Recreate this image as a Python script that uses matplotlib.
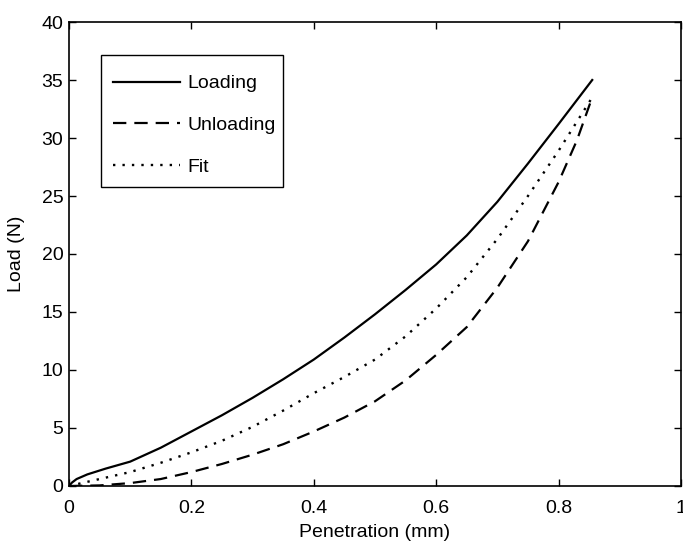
import matplotlib
matplotlib.use("Agg")
import matplotlib.pyplot as plt
from matplotlib.patches import Rectangle

# Data
load_x = [0, 0.005, 0.0125, 0.03, 0.06, 0.1, 0.15, 0.2, 0.25, 0.3, 0.35, 0.4,
          0.45, 0.5, 0.55, 0.6, 0.65, 0.7, 0.75, 0.8, 0.855]
load_y = [0, 0.3, 0.6, 1.0, 1.5, 2.1, 3.3, 4.7, 6.1, 7.6, 9.2, 10.9,
          12.8, 14.8, 16.9, 19.1, 21.6, 24.5, 27.8, 31.2, 35.0]

unload_x = [0, 0.05, 0.1, 0.15, 0.2, 0.25, 0.3, 0.35, 0.4, 0.45, 0.5, 0.55,
            0.6, 0.65, 0.7, 0.75, 0.8, 0.83, 0.855]
unload_y = [0, 0.05, 0.25, 0.6, 1.2, 1.9, 2.7, 3.6, 4.7, 5.9, 7.3, 9.1,
            11.3, 13.7, 17.1, 21.1, 26.2, 29.8, 33.5]

fit_x = [0, 0.05, 0.1, 0.15, 0.2, 0.25, 0.3, 0.35, 0.4, 0.45, 0.5, 0.55,
         0.6, 0.65, 0.7, 0.75, 0.8, 0.855]
fit_y = [0, 0.6, 1.2, 2.0, 2.9, 3.9, 5.1, 6.5, 8.0, 9.4, 10.9, 12.9,
         15.3, 18.0, 21.3, 25.0, 28.9, 33.5]

xticks = [0, 0.2, 0.4, 0.6, 0.8, 1]
xticklabels = ["0", "0.2", "0.4", "0.6", "0.8", "1"]
yticks = [0, 5, 10, 15, 20, 25, 30, 35, 40]

plt.rcParams['font.family'] = ['Liberation Sans', 'DejaVu Sans']
plt.rcParams['font.size'] = 14

fig = plt.figure(figsize=(6.83, 5.46), dpi=100)
ax = fig.add_axes([0.101, 0.1099, 0.896, 0.8498])

ax.plot(load_x, load_y, color='black', lw=1.6, linestyle='-', label='Loading')
ax.plot(unload_x, unload_y, color='black', lw=1.6, linestyle=(0, (6, 3.6)), label='Unloading')
ax.plot(fit_x, fit_y, color='black', lw=1.7, linestyle=(0, (1, 3)), label='Fit')

ax.set_xlim(0, 1)
ax.set_ylim(0, 40)
ax.set_xticks(xticks)
ax.set_xticklabels(xticklabels)
ax.set_yticks(yticks)
ax.tick_params(direction='in', top=True, right=True, length=5, width=1)
ax.tick_params(axis='x', pad=10)
ax.tick_params(axis='y', pad=4)
for s in ax.spines.values():
    s.set_linewidth(1.2)

ax.set_xlabel('Penetration (mm)', labelpad=5)
ax.set_ylabel('Load (N)', labelpad=12)

# legend box (frame drawn separately for MATLAB-like padding)
ax.add_patch(Rectangle((0.0523, 0.644), 0.2974, 0.285, transform=ax.transAxes,
                       facecolor='white', edgecolor='black', lw=1.0, zorder=4))
leg = ax.legend(loc='center left', bbox_to_anchor=(0.0719, 0.7775), frameon=False,
                handlelength=3.45, labelspacing=1.24, borderpad=0,
                handletextpad=0.4, borderaxespad=0)
leg.set_zorder(5)

fig.savefig('out.png', dpi=100)
